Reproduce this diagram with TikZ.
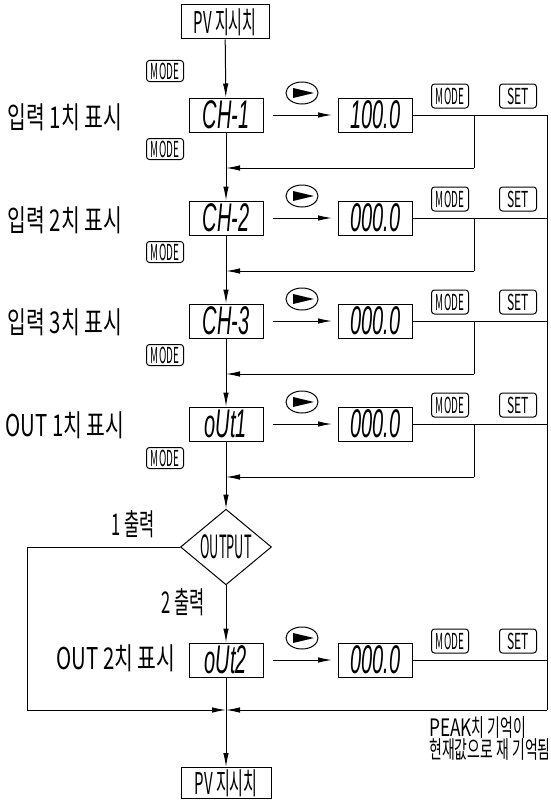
\documentclass[tikz,border=0pt]{standalone}
\usepackage{fontspec}
\setmainfont{Noto Sans CJK KR}
\newfontfamily\segfont{Liberation Sans}
\usetikzlibrary{arrows.meta,shapes.geometric}
\newcommand\narrowtxt[2]{\scalebox{#1}[1]{#2}}
\tikzset{
 ln/.style={line width=1pt},
 arr/.style={ln,-{Latex[length=14pt,width=5.5pt]}},
 pvbox/.style={draw,ln,minimum width=88pt,minimum height=34pt,inner sep=0pt,font=\fontsize{30}{30}\selectfont},
 disp/.style={draw,ln,minimum width=74pt,minimum height=34pt,inner sep=0pt,font=\segfont\itshape\fontsize{40}{40}\selectfont},
 btn/.style={draw,ln,rounded corners=3pt,minimum width=37pt,minimum height=24pt,inner sep=0pt,font=\fontsize{22}{22}\selectfont},
 lbtn/.style={btn,minimum height=21pt},
 rbtn/.style={draw,ellipse,ln,minimum width=32pt,minimum height=22pt,inner sep=0pt},
 lbl/.style={font=\fontsize{30}{30}\selectfont,inner sep=0pt},
 note/.style={font=\fontsize{24}{24}\selectfont,inner sep=0pt,anchor=west},
 decide/.style={draw,ln,diamond,minimum width=91pt,minimum height=75pt,inner sep=0pt,font=\fontsize{32}{32}\selectfont},
}
\begin{document}
\begin{tikzpicture}[x=1pt,y=-1pt]
\useasboundingbox (0,0) rectangle (550,800);
% top and bottom PV boxes
\node[pvbox] (pv1) at (225,22) {\narrowtxt{0.5}{PV 지시치}};
\node[pvbox,minimum width=90pt,minimum height=31pt] (pv2) at (226,783) {\narrowtxt{0.5}{PV 지시치}};
\node[lbtn] (lm0) at (165,71) {\narrowtxt{0.45}{MODE}};
% rows
\foreach \i/\y/\d/\v in {1/115/CH-1/100.0,2/218/CH-2/000.0,3/321/CH-3/000.0,4/424/oUt1/000.0,5/660/oUt2/000.0}{
  \node[disp] (d\i) at (226,\y) {\narrowtxt{0.5}{\d}};
  \node[disp] (v\i) at (375.5,\y) {\narrowtxt{0.5}{\v}};
  \node[rbtn] (e\i) at (302,\y-22) {};
  \fill[shift={(e\i.center)}] (-9,-5) -- (-9,5) -- (12,0) -- cycle;
  \node[btn] (m\i) at (450,\y-19) {\narrowtxt{0.45}{MODE}};
  \node[btn] (s\i) at (518,\y-19) {\narrowtxt{0.55}{SET}};
  \draw[arr,shorten <=9pt,shorten >=6pt] (d\i) -- (v\i);
  \coordinate (r\i) at (547,\y);
  \draw[ln] (v\i) -- (r\i);
}
\node[lbl] (t1) at (65,117) {\narrowtxt{0.68}{입력 1치 표시}};
\node[lbl] (t2) at (65,220) {\narrowtxt{0.68}{입력 2치 표시}};
\node[lbl] (t3) at (65,322) {\narrowtxt{0.68}{입력 3치 표시}};
\node[lbl] (t4) at (65,425) {\narrowtxt{0.68}{OUT 1치 표시}};
\node[lbl] (t5) at (116,658) {\narrowtxt{0.68}{OUT 2치 표시}};
% branches back to main line
\foreach \i/\y in {1/115,2/218,3/321,4/424}{
  \coordinate (b\i) at (474,\y);
  \coordinate (bb\i) at (474,\y+53);
  \coordinate (j\i) at (226,\y+53);
  \draw[ln] (b\i) -- (bb\i);
  \draw[arr] (bb\i) -- (j\i);
  \node[lbtn] (lm\i) at (165,\y+34) {\narrowtxt{0.45}{MODE}};
}
% decision
\node[decide] (dia) at (226,547) {\narrowtxt{0.4}{OUTPUT}};
\node[lbl] (o1) at (133,524) {\narrowtxt{0.55}{1 출력}};
\node[lbl] (o2) at (183,602) {\narrowtxt{0.55}{2 출력}};
% main line
\draw[arr] (pv1) -- (d1);
\draw[arr] (d1) -- (d2);
\draw[arr] (d2) -- (d3);
\draw[arr] (d3) -- (d4);
\draw[arr] (d4) -- (dia);
\draw[arr] (dia) -- (d5);
\draw[arr] (d5) -- (pv2);
% loops
\coordinate (L1) at (27,547);
\coordinate (L2) at (27,710);
\coordinate (J) at (226,710);
\coordinate (R2) at (547,710);
\draw[ln] (dia.west) -- (L1) -- (L2);
\draw[arr] (L2) -- (J);
\draw[ln] (r1) -- (R2);
\draw[arr] (R2) -- (J);
% note
\node[note] (n1) at (429,728) {\narrowtxt{0.72}{PEAK}\narrowtxt{0.58}{치 기억이}};
\node[note] (n2) at (429,750) {\narrowtxt{0.58}{현재값으로 재 기억됨}};
\end{tikzpicture}
\end{document}
